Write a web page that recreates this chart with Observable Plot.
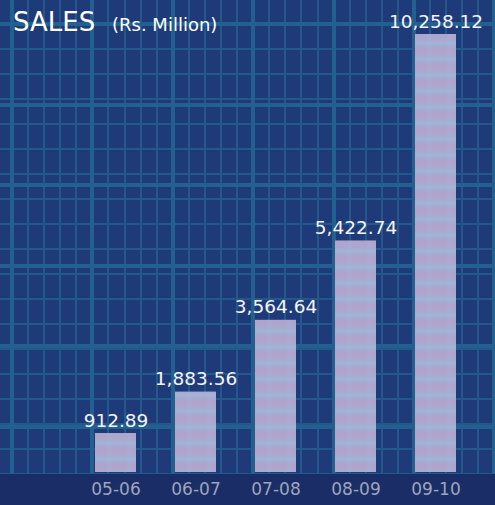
<!DOCTYPE html>
<html>
<head>
<meta charset="utf-8">
<script src="https://cdn.jsdelivr.net/npm/d3@7"></script>
<script src="https://cdn.jsdelivr.net/npm/@observablehq/plot@0.6"></script>
<style>
  html, body { margin: 0; padding: 0; }
  body { width: 495px; height: 505px; overflow: hidden; }
  #wrap {
    position: relative; width: 495px; height: 505px;
    background-color: #1e3a79;
    background-image:
      repeating-linear-gradient(90deg, transparent 0 10px, #21608f 10px 14px, transparent 14px 80.4px),
      repeating-linear-gradient(180deg, transparent 0 22px, #21608f 22px 26px, transparent 26px 80.6px),
      repeating-linear-gradient(90deg, transparent 0 11px, #22588a 11px 13px, transparent 13px 16.08px),
      repeating-linear-gradient(180deg, transparent 0 23px, #22588a 23px 25px, transparent 25px 16.12px);
  }
  #strip { position: absolute; left: 0; top: 474px; width: 495px; height: 31px; background: #1a2d67; }
  #chart { position: absolute; left: 0; top: 0; }
  #chart svg { background: transparent !important; display: block; }
</style>
</head>
<body>
<div id="wrap"><div id="strip"></div><div id="chart"></div></div>
<script>
const years = ["05-06", "06-07", "07-08", "08-09", "09-10"];
const sales = [912.89, 1883.56, 3564.64, 5422.74, 10258.12];
const titleMain = "SALES";
const titleUnit = "(Rs. Million)";

const data = years.map((year, i) => ({year, sales: sales[i]}));
const fmt = d3.format(",.2f");
const font = "'DejaVu Sans', Verdana, sans-serif";

const chart = Plot.plot({
  width: 495,
  height: 505,
  margin: 0,
  style: {background: "transparent", fontFamily: font},
  x: {type: "band", domain: years, range: [75, 475.5], paddingInner: 0.49, paddingOuter: 0.245, axis: null},
  y: {domain: [0, 10258.12], range: [472, 34], axis: null},
  marks: [
    Plot.barY(data, {x: "year", y: "sales", fill: "url(#barpat)"}),
    Plot.text(data, {x: "year", y: "sales", text: d => fmt(d.sales), dy: -7, lineAnchor: "bottom", fill: "#f4f4fa", fontSize: 18.5}),
    Plot.text(data, {x: "year", frameAnchor: "bottom", dy: -11, lineAnchor: "bottom", text: "year", fill: "#9ea5bb", fontSize: 17})
  ]
});

const svg = d3.select(chart);
const defs = svg.insert("defs", ":first-child");
const pat = defs.append("pattern").attr("id", "barpat").attr("patternUnits", "userSpaceOnUse")
  .attr("width", 20).attr("height", 16);
pat.append("rect").attr("width", 20).attr("height", 16).attr("fill", "#aba8d0");
pat.append("rect").attr("y", 0).attr("width", 20).attr("height", 5).attr("fill", "#b2a2ca").attr("opacity", 0.8);
pat.append("rect").attr("y", 9).attr("width", 20).attr("height", 4).attr("fill", "#a0b4d6").attr("opacity", 0.8);
pat.append("rect").attr("x", 7).attr("width", 5).attr("height", 16).attr("fill", "#a3b7d8").attr("opacity", 0.3);

const t = svg.append("text").attr("x", 13).attr("y", 31).attr("fill", "#ffffff")
  .attr("font-family", font).attr("text-anchor", "start");
t.append("tspan").attr("font-size", 26).text(titleMain);
t.append("tspan").attr("x", 112).attr("font-size", 18).text(titleUnit);

document.getElementById("chart").appendChild(chart);
</script>
</body>
</html>
